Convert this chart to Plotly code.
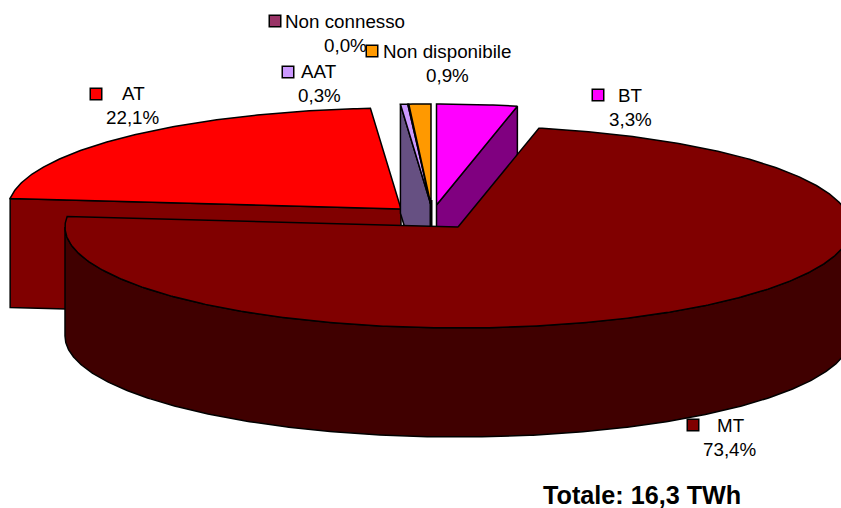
import math
import plotly.graph_objects as go

# Data
categories = ["BT", "MT", "AT", "AAT", "Non connesso", "Non disponibile"]
values = [3.3, 73.4, 22.1, 0.3, 0.04, 0.9]
value_labels = ["3,3%", "73,4%", "22,1%", "0,3%", "0,0%", "0,9%"]
total_label = "Totale: 16,3 TWh"

# Style and layout
top_colors = ["#ff00ff", "#800000", "#ff0000", "#cc99ff", "#993366", "#ff9900"]
face_colors = ["#800080", "#400000", "#800000", "#665082", "#4c1933", "#804c00"]
apexes = [(436.5, 205), (458, 227), (401, 209), (431, 205), (431, 205), (431, 205)]
RX, RY, DEPTH = 393, 101, 109
FONT = "Liberation Sans, Arial, sans-serif"
LABEL_SIZE = 18.8
# per category: key centre, name left edge, name y, value centre x, value y
label_pos = {
    "BT": (598, 95, 617, 95, 630, 119),
    "MT": (693, 425, 716, 425, 730, 449),
    "AT": (96, 94, 121, 93, 133, 117),
    "AAT": (288, 72, 300, 71, 319, 95),
    "Non connesso": (275, 21, 284, 21, 345, 45),
    "Non disponibile": (372, 51, 382, 51, 447, 75),
}

total = sum(values)
angles = [0]
for v in values:
    angles.append(angles[-1] + 360 * v / total)


def rim(apex, t, drop=0):
    r = math.radians(t)
    return apex[0] + RX * math.sin(r), apex[1] - RY * math.cos(r) + drop


def arc(apex, t0, t1, drop=0):
    n = max(2, int(abs(t1 - t0) * 2))
    pts = [rim(apex, t0 + (t1 - t0) * i / n, drop) for i in range(n + 1)]
    return pts


def poly(pts, color, width=1.5):
    xs = [p[0] for p in pts] + [pts[0][0]]
    ys = [p[1] for p in pts] + [pts[0][1]]
    return go.Scatter(x=xs, y=ys, mode="lines", fill="toself", fillcolor=color,
                      line=dict(color="black", width=width), hoverinfo="skip",
                      showlegend=False)


def top(i):
    a = apexes[i]
    return poly([a] + arc(a, angles[i], angles[i + 1]), top_colors[i])


def cut_face(i, t):
    a = apexes[i]
    e = rim(a, t)
    return poly([a, e, (e[0], e[1] + DEPTH), (a[0], a[1] + DEPTH)], face_colors[i])


def wall(i):
    a = apexes[i]
    t0, t1 = max(angles[i], 90), min(angles[i + 1], 270)
    return poly(arc(a, t0, t1) + arc(a, t1, t0, DEPTH), face_colors[i])


BT, MT, AT, AAT, NC, ND = range(6)
fig = go.Figure()
# AT slice
fig.add_trace(cut_face(AT, angles[AT]))
fig.add_trace(top(AT))
# Small slices behind
fig.add_trace(cut_face(AAT, angles[AAT]))
fig.add_trace(top(AAT))
fig.add_trace(top(NC))
fig.add_trace(top(ND))
a = apexes[ND]
fig.add_trace(go.Scatter(x=[a[0], a[0]], y=[a[1] - 5, a[1] + DEPTH], mode="lines",
                         line=dict(color="black", width=3), hoverinfo="skip",
                         showlegend=False))
# BT slice
fig.add_trace(cut_face(BT, angles[BT + 1]))
fig.add_trace(top(BT))
# MT slice on the front
fig.add_trace(wall(MT))
fig.add_trace(top(MT))

# Keys and labels
annotations = []
for i, name in enumerate(categories):
    kx, ky, nx, ny, vx, vy = label_pos[name]
    fig.add_trace(go.Scatter(x=[kx], y=[ky], mode="markers", hoverinfo="skip",
                             showlegend=False, cliponaxis=False,
                             marker=dict(symbol="square", size=11.5, color=top_colors[i],
                                         line=dict(color="black", width=1.5))))
    annotations.append(dict(x=nx, y=ny, text=name, xanchor="left", yanchor="middle",
                            showarrow=False, xref="x", yref="y", borderpad=0,
                            font=dict(family=FONT, size=LABEL_SIZE, color="black")))
    annotations.append(dict(x=vx, y=vy, text=value_labels[i], xanchor="center",
                            yanchor="middle", showarrow=False, xref="x", yref="y",
                            borderpad=0,
                            font=dict(family=FONT, size=LABEL_SIZE, color="black")))
annotations.append(dict(x=642, y=495, text="<b>" + total_label + "</b>", xanchor="center",
                        yanchor="middle", showarrow=False, xref="x", yref="y",
                        font=dict(family=FONT, size=25.2, color="black")))

hidden = dict(visible=False, showgrid=False, zeroline=False, fixedrange=True)
fig.update_layout(
    width=841, height=508, margin=dict(l=0, r=0, t=0, b=0),
    paper_bgcolor="white", plot_bgcolor="white", showlegend=False,
    xaxis=dict(range=[0, 841], **hidden),
    yaxis=dict(range=[508, 0], **hidden),
    annotations=annotations,
)
fig.write_html("out.html", config={"displayModeBar": False},
               post_script="document.body.style.margin='0';")
